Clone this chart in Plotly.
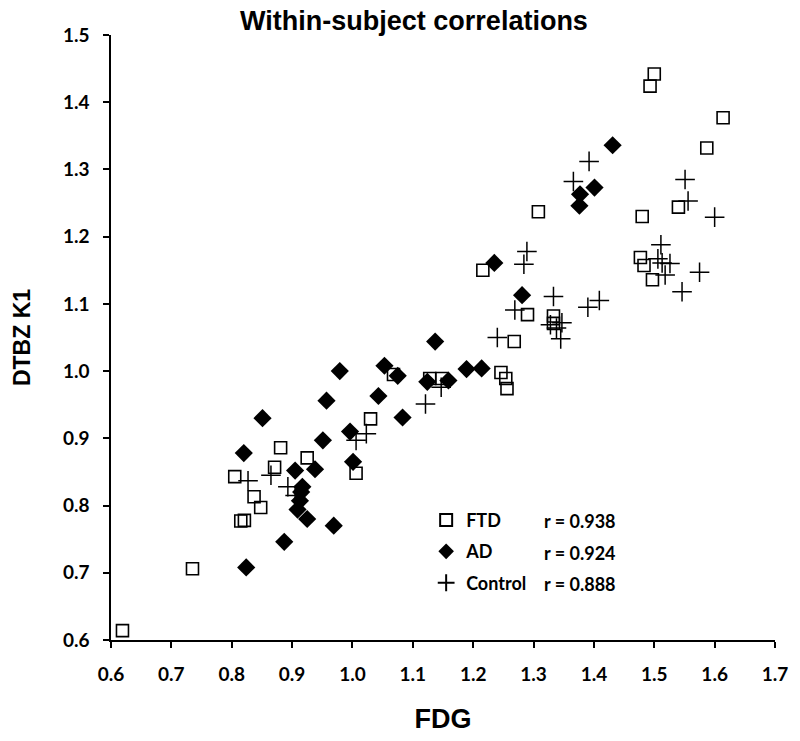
import plotly.graph_objects as go

ftd_x = [0.619, 0.735, 0.815, 0.821, 0.848, 0.837, 0.805, 0.871, 0.925, 0.881,
         1.006, 1.030, 1.068, 1.128, 1.148, 1.246, 1.254, 1.256, 1.268, 1.216,
         1.308, 1.290, 1.333, 1.333, 1.500, 1.493, 1.614, 1.587, 1.540, 1.480,
         1.477, 1.483, 1.497]
ftd_y = [0.614, 0.706, 0.777, 0.778, 0.797, 0.813, 0.843, 0.857, 0.871, 0.886,
         0.848, 0.929, 0.995, 0.989, 0.989, 0.998, 0.989, 0.974, 1.044, 1.150,
         1.237, 1.084, 1.082, 1.071, 1.442, 1.424, 1.377, 1.332, 1.244, 1.230,
         1.169, 1.157, 1.136]

ad_x = [0.824, 0.887, 0.969, 0.925, 0.909, 0.913, 0.915, 0.917, 0.905, 0.938,
        0.820, 0.851, 0.951, 0.996, 1.001, 0.957, 0.979, 1.053, 1.075, 1.043,
        1.083, 1.124, 1.137, 1.159, 1.189, 1.214, 1.235, 1.281, 1.376, 1.377,
        1.401, 1.431]
ad_y = [0.708, 0.746, 0.770, 0.780, 0.794, 0.807, 0.820, 0.828, 0.852, 0.854,
        0.878, 0.930, 0.897, 0.910, 0.865, 0.956, 1.000, 1.008, 0.993, 0.963,
        0.931, 0.984, 1.044, 0.986, 1.003, 1.004, 1.161, 1.113, 1.246, 1.263,
        1.273, 1.336]

ctl_x = [0.827, 0.865, 0.893, 0.905, 1.006, 1.023, 1.121, 1.147, 1.240, 1.269,
         1.284, 1.289, 1.333, 1.328, 1.347, 1.338, 1.345, 1.390, 1.409, 1.366,
         1.392, 1.551, 1.556, 1.600, 1.511, 1.506, 1.513, 1.526, 1.518, 1.575,
         1.546]
ctl_y = [0.837, 0.845, 0.828, 0.815, 0.897, 0.907, 0.951, 0.976, 1.050, 1.091,
         1.159, 1.178, 1.111, 1.069, 1.072, 1.064, 1.048, 1.095, 1.105, 1.282,
         1.312, 1.285, 1.253, 1.229, 1.188, 1.167, 1.161, 1.160, 1.143, 1.147,
         1.118]

group_names = ["FTD", "AD", "Control"]
r_labels = ["r = 0.938", "r = 0.924", "r = 0.888"]

x_ticks = [0.6, 0.7, 0.8, 0.9, 1.0, 1.1, 1.2, 1.3, 1.4, 1.5, 1.6, 1.7]
y_ticks = [0.6, 0.7, 0.8, 0.9, 1.0, 1.1, 1.2, 1.3, 1.4, 1.5]

TICKFONT = dict(family="Lato, Open Sans, sans-serif", size=19, color="black", weight="bold")
ARIAL = "Liberation Sans, Arial, sans-serif"

W, H = 800, 741
plot_l, plot_r, plot_t, plot_b = 111, 781, 35, 652

fig = go.Figure()
fig.add_trace(go.Scatter(
    x=ftd_x, y=ftd_y, mode="markers", name=group_names[0], legendgroup="g1",
    marker=dict(symbol="square-open", size=12, color="black", line=dict(width=1.6, color="black")),
))
fig.add_trace(go.Scatter(
    x=ad_x, y=ad_y, mode="markers", name=group_names[1], legendgroup="g2",
    marker=dict(symbol="diamond", size=14, color="black", line=dict(width=0)),
))
fig.add_trace(go.Scatter(
    x=ctl_x, y=ctl_y, mode="markers", name=group_names[2], legendgroup="g3",
    marker=dict(symbol="cross-thin", size=14, color="black", line=dict(width=1.5, color="black")),
))

rows_py = [531, 563, 595]
annotations = []
for lab, py in zip(r_labels, rows_py):
    annotations.append(dict(
        xref="paper", yref="paper",
        x=(546 - plot_l) / (plot_r - plot_l), y=(plot_b - py) / (plot_b - plot_t),
        xanchor="left", yanchor="middle", text=lab, showarrow=False,
        font=dict(family="Lato, Open Sans, sans-serif", size=18, color="black", weight="bold"),
    ))

fig.update_layout(
    width=W, height=H,
    margin=dict(l=plot_l, r=W - plot_r, t=plot_t, b=H - plot_b),
    paper_bgcolor="white", plot_bgcolor="white",
    title=dict(
        text="Within-subject correlations",
        x=414 / W, xanchor="center", xref="container",
        y=1 - 21 / H, yanchor="middle", yref="container",
        font=dict(family=ARIAL, size=27, color="black", weight="bold"),
    ),
    showlegend=True,
    legend=dict(
        x=(429 - plot_l) / (plot_r - plot_l), y=(plot_b - 511) / (plot_b - plot_t),
        xanchor="left", yanchor="top",
        bgcolor="rgba(0,0,0,0)", borderwidth=0,
        font=dict(family="Lato, Open Sans, sans-serif", size=18, color="black", weight="bold"),
        tracegroupgap=5, itemsizing="constant",
    ),
    annotations=annotations,
    xaxis=dict(
        range=[0.6, 1.7], tickvals=x_ticks, tickformat=".1f",
        showgrid=False, zeroline=False,
        showline=True, linecolor="black", linewidth=1.5,
        ticks="outside", ticklen=6, tickwidth=1.5, tickcolor="black",
        tickfont=TICKFONT, ticklabelstandoff=10,
        title=dict(text="FDG", font=dict(family="Liberation Sans Narrow, " + ARIAL, size=27, color="black", weight="bold"), standoff=26),
    ),
    yaxis=dict(
        range=[0.6, 1.5], tickvals=y_ticks, tickformat=".1f",
        showgrid=False, zeroline=False,
        showline=True, linecolor="black", linewidth=1.5,
        ticks="outside", ticklen=6, tickwidth=1.5, tickcolor="black",
        tickfont=TICKFONT, ticklabelstandoff=10,
        title=dict(text="DTBZ K1", font=dict(family=ARIAL, size=23, color="black", weight="bold"), standoff=26),
    ),
)

# remove the browser's default 8 px page margin so the figure fills the window exactly
fig.write_html("out.html", config={"displayModeBar": False},
               post_script="document.body.style.margin='0';")
